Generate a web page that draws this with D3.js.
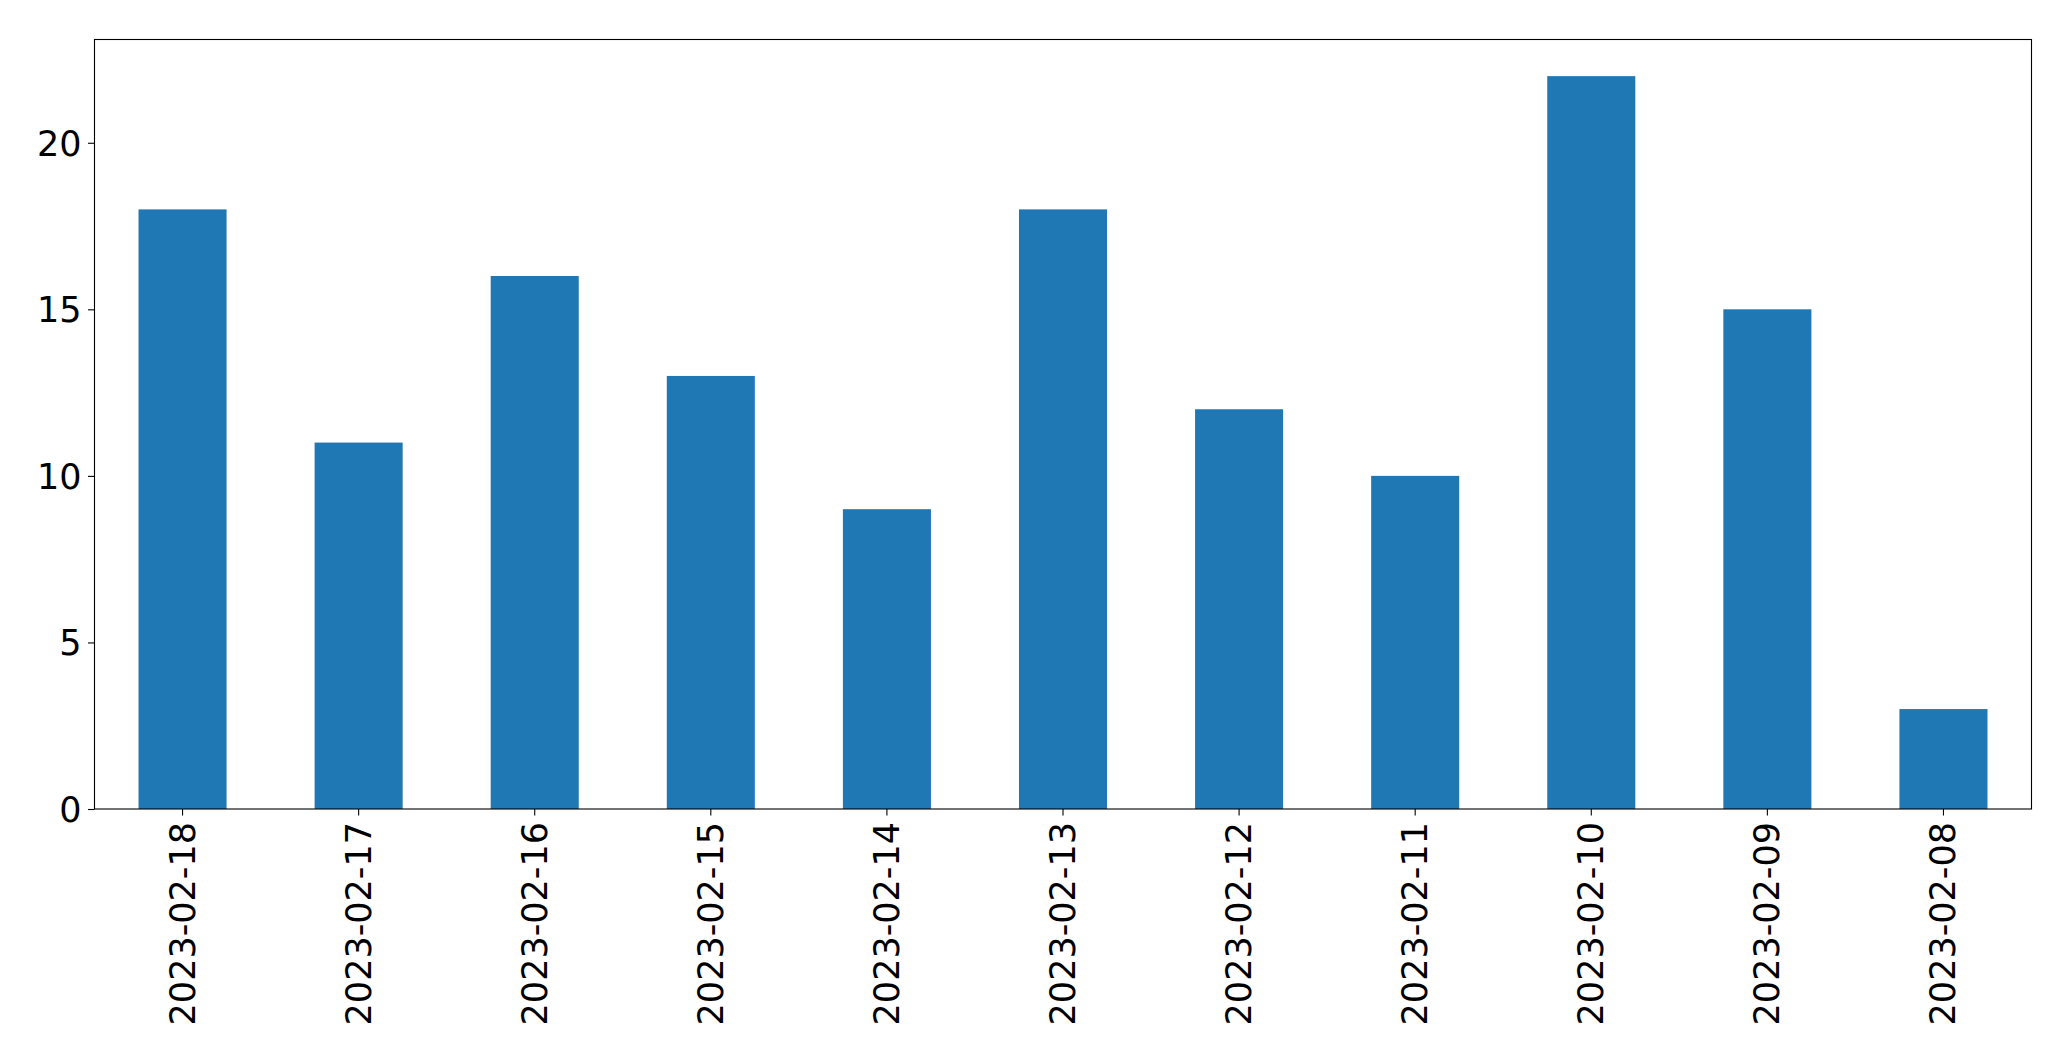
<!DOCTYPE html>
<html>
<head>
<meta charset="utf-8">
<script src="https://cdn.jsdelivr.net/npm/d3@7"></script>
<style>
  html, body { margin: 0; padding: 0; background: #fff; }
  svg { display: block; }
  .tick text { font-family: "DejaVu Sans", sans-serif; font-size: 35px; fill: #000; }
</style>
</head>
<body>
<svg id="chart" width="2071" height="1061"></svg>
<script>
const categories = ["2023-02-18","2023-02-17","2023-02-16","2023-02-15","2023-02-14","2023-02-13","2023-02-12","2023-02-11","2023-02-10","2023-02-09","2023-02-08"];
const values = [18, 11, 16, 13, 9, 18, 12, 10, 22, 15, 3];
const yTicks = [0, 5, 10, 15, 20];

const W = 2071, H = 1061;
const plot = { left: 94.5, right: 2031.5, top: 39.5, bottom: 809 };

const svg = d3.select("#chart");

const x = d3.scaleBand()
  .domain(categories)
  .range([plot.left, plot.right])
  .paddingInner(0.5)
  .paddingOuter(0.25);

const y = d3.scaleLinear()
  .domain([0, d3.max(values) * 1.05])
  .range([plot.bottom, plot.top]);

const data = categories.map((c, i) => ({ c, v: values[i] }));

svg.append("g")
  .selectAll("rect")
  .data(data)
  .join("rect")
  .attr("x", d => x(d.c))
  .attr("y", d => y(d.v))
  .attr("width", x.bandwidth())
  .attr("height", d => y(0) - y(d.v))
  .attr("fill", "#1f77b4");

// Frame
svg.append("rect")
  .attr("x", plot.left)
  .attr("y", plot.top)
  .attr("width", plot.right - plot.left)
  .attr("height", plot.bottom - plot.top)
  .attr("fill", "none")
  .attr("stroke", "#000")
  .attr("stroke-width", 1.1);

// Y axis
const yAxis = svg.append("g")
  .attr("transform", `translate(${plot.left},0)`)
  .call(d3.axisLeft(y).tickValues(yTicks).tickSize(6.5).tickPadding(6.5).tickSizeOuter(0));
yAxis.select(".domain").remove();
yAxis.selectAll(".tick line").attr("stroke", "#000").attr("stroke-width", 1.1);
yAxis.selectAll(".tick text").attr("dy", "0.35em");

// X axis
const xAxis = svg.append("g")
  .attr("transform", `translate(0,${plot.bottom})`)
  .call(d3.axisBottom(x).tickSize(6.5).tickSizeOuter(0));
xAxis.select(".domain").remove();
xAxis.selectAll(".tick line").attr("stroke", "#000").attr("stroke-width", 1.1);
xAxis.selectAll(".tick text")
  .attr("text-anchor", "end")
  .attr("dy", null)
  .attr("y", 0)
  .attr("x", 0)
  .attr("dominant-baseline", "central")
  .attr("transform", "translate(0,13) rotate(-90)");
</script>
</body>
</html>
